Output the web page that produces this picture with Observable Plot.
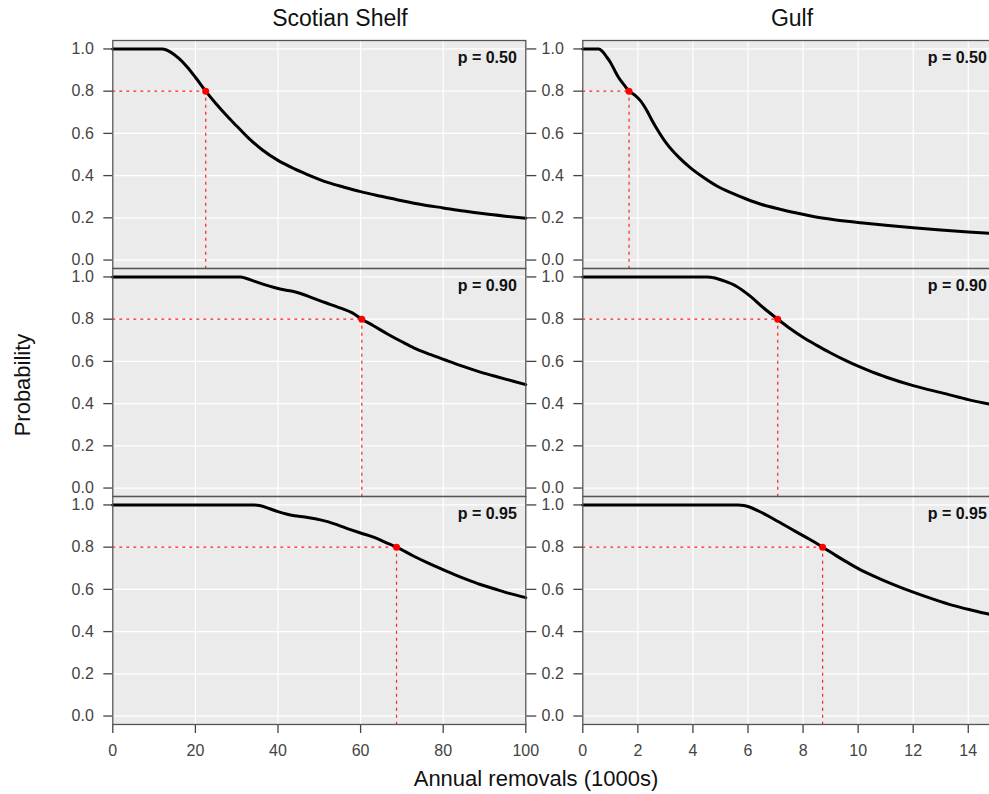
<!DOCTYPE html>
<html>
<head>
<meta charset="utf-8">
<script src="https://cdn.jsdelivr.net/npm/d3@7"></script>
<script src="https://cdn.jsdelivr.net/npm/@observablehq/plot@0.6"></script>
<style>
  html, body { margin: 0; padding: 0; background: #fff; overflow: hidden; }
  #wrap { position: relative; width: 989px; height: 794px; overflow: hidden; background: #fff; }
  #wrap > svg { position: absolute; top: 0; }
  #labels { position: absolute; left: 0; top: 0; pointer-events: none; }
  #wrap g[aria-label$="tick label"] { font-size: 16px !important; }
</style>
</head>
<body>
<div id="wrap">
  <div id="colA"></div>
  <div id="colB"></div>
</div>
<script>
// Regions (columns) and precautionary probability levels (rows)
const regions = ["Scotian Shelf", "Gulf"];
const pLevels = ["0.50", "0.90", "0.95"];
const yTicks = [0, 0.2, 0.4, 0.6, 0.8, 1.0];
const ssTicks = [0, 20, 40, 60, 80, 100];
const gulfTicks = [0, 2, 4, 6, 8, 10, 12, 14];

// Probability of meeting the objective vs annual removals (1000s)
const scotian050 = [[0,1],[12,1],[13,0.995],[14,0.985],[16,0.955],[18,0.915],[20,0.866],[22.5,0.8],[25,0.74],[28,0.675],[30,0.635],[33,0.575],[36,0.525],[40,0.472],[44,0.432],[48,0.398],[52,0.368],[56,0.345],[60,0.324],[65,0.302],[70,0.281],[75,0.262],[80,0.247],[85,0.232],[90,0.219],[95,0.208],[100,0.198]];
const scotian090 = [[0,1],[31,1],[32,0.995],[34.2,0.98],[36.5,0.965],[39.1,0.95],[42,0.937],[44,0.93],[46,0.918],[48,0.903],[51.2,0.88],[55.2,0.852],[58,0.83],[60.3,0.8],[63,0.77],[66.5,0.73],[70,0.693],[73,0.663],[77,0.632],[81,0.603],[85,0.575],[89,0.549],[93,0.527],[97,0.506],[100,0.49]];
const scotian095 = [[0,1],[33.8,1],[35.8,0.996],[38,0.982],[40,0.968],[42,0.957],[44,0.949],[46.5,0.943],[49,0.935],[52,0.921],[56.8,0.888],[60,0.867],[63.3,0.846],[66,0.823],[68.7,0.8],[72.9,0.757],[76,0.728],[79.4,0.698],[82.6,0.671],[85.8,0.646],[89,0.623],[92.3,0.603],[96,0.581],[100,0.561]];
const gulf050 = [[0,1],[0.58,1],[0.7,0.99],[0.85,0.965],[1.0,0.937],[1.15,0.9],[1.3,0.865],[1.5,0.83],[1.68,0.8],[1.9,0.78],[2.09,0.755],[2.33,0.707],[2.5,0.665],[2.7,0.62],[3.06,0.549],[3.5,0.485],[3.9,0.438],[4.4,0.39],[4.87,0.351],[5.4,0.318],[5.96,0.288],[6.5,0.263],[7.16,0.241],[7.8,0.222],[8.37,0.206],[9.2,0.19],[10.18,0.176],[11,0.165],[12,0.153],[13,0.142],[14,0.133],[15,0.125]];
const gulf090 = [[0,1],[4.5,1],[4.8,0.995],[5.11,0.982],[5.59,0.955],[6.08,0.909],[6.56,0.854],[7.08,0.8],[7.5,0.758],[8.01,0.713],[8.5,0.676],[8.97,0.642],[9.5,0.607],[10,0.577],[10.5,0.55],[11.03,0.525],[12,0.485],[13.2,0.446],[14,0.419],[15,0.392]];
const gulf095 = [[0,1],[5.65,1],[5.85,0.997],[6.08,0.989],[6.4,0.97],[6.8,0.943],[7.3,0.906],[7.77,0.871],[8.25,0.836],[8.71,0.8],[9.2,0.76],[9.7,0.721],[10.2,0.685],[10.79,0.65],[11.4,0.617],[12,0.587],[12.7,0.555],[13.44,0.524],[14.1,0.502],[14.73,0.483],[15,0.476]];

// Removals giving an 80% probability at each level
const targetProb = 0.8;
const scotianTarget = [22.5, 60.3, 68.7];
const gulfTarget = [1.68, 7.08, 8.71];

const font = "'Liberation Sans', Arial, Helvetica, sans-serif";

function column(series, targets, xMax, xTicks) {
  const curves = pLevels.flatMap((p, i) => series[i].map(([x, y]) => ({p, x, y})));
  const refs = pLevels.map((p, i) => ({p, x: targets[i], y: targetProb, label: `p = ${p}`}));
  return Plot.plot({
    width: 545.3,
    height: 794,
    marginLeft: 112.3,
    marginRight: 20,
    marginTop: 40,
    marginBottom: 69.5,
    style: {background: "transparent", fontFamily: font, fontSize: "16px", color: "#444", overflow: "visible"},
    x: {domain: [0, xMax]},
    y: {domain: [-0.04, 1.04]},
    fy: {domain: pLevels, padding: 0, axis: null, label: null},
    marks: [
      Plot.frame({fill: "#ebebeb", stroke: "none"}),
      Plot.gridX(xTicks, {stroke: "#fff", strokeOpacity: 1, strokeWidth: 1.2}),
      Plot.gridY(yTicks, {stroke: "#fff", strokeOpacity: 1, strokeWidth: 1.2}),
      Plot.axisY(yTicks, {anchor: "left", tickSize: 9, tickPadding: 10, tickFormat: d3.format(".1f"), label: null, strokeWidth: 1.3, fontSize: 16}),
      Plot.axisY(yTicks, {anchor: "right", tickSize: 10, tickFormat: () => "", label: null, strokeWidth: 1.3}),
      Plot.axisX(xTicks, {anchor: "bottom", tickSize: 9, tickPadding: 11, label: null, strokeWidth: 1.3, fontSize: 16}),
      Plot.ruleY(refs, {fy: "p", y: "y", x1: () => 0, x2: "x", stroke: "#ff2020", strokeWidth: 1.2, strokeDasharray: "3,4"}),
      Plot.ruleX(refs, {fy: "p", x: "x", y1: "y", y2: () => -0.04, stroke: "#ff2020", strokeWidth: 1.2, strokeDasharray: "3,4"}),
      Plot.line(curves, {fy: "p", x: "x", y: "y", stroke: "#000", strokeWidth: 3, curve: "monotone-x", strokeLinejoin: "round"}),
      Plot.dot(refs, {fy: "p", x: "x", y: "y", r: 3.5, fill: "#ff0000", stroke: "none"}),
      Plot.text(refs, {fy: "p", text: "label", frameAnchor: "top-right", dx: -9, dy: 11, lineAnchor: "top", fontWeight: "bold", fontSize: 16, fill: "#111"}),
      Plot.frame({stroke: "#555", strokeWidth: 1.3})
    ]
  });
}

const left = column([scotian050, scotian090, scotian095], scotianTarget, 100, ssTicks);
left.style.left = "0px";
const right = column([gulf050, gulf090, gulf095], gulfTarget, 15, gulfTicks);
right.style.left = "470px";
const wrap = document.getElementById("wrap");
document.getElementById("colA").replaceWith(left);
document.getElementById("colB").replaceWith(right);

// Strip titles and shared axis titles
const ns = "http://www.w3.org/2000/svg";
const overlay = document.createElementNS(ns, "svg");
overlay.setAttribute("id", "labels");
overlay.setAttribute("width", 989);
overlay.setAttribute("height", 794);
overlay.style.fontFamily = font;
function addText(txt, x, y, size, rotate) {
  const t = document.createElementNS(ns, "text");
  t.textContent = txt;
  t.setAttribute("x", x);
  t.setAttribute("y", y);
  t.setAttribute("font-size", size);
  t.setAttribute("text-anchor", "middle");
  t.setAttribute("fill", "#111");
  if (rotate) t.setAttribute("transform", `rotate(${rotate},${x},${y})`);
  overlay.appendChild(t);
}
addText(regions[0], 340, 26, 23);
addText(regions[1], 792, 26, 23);
addText("Annual removals (1000s)", 536, 786, 22);
addText("Probability", 30, 385, 22, -90);
wrap.appendChild(overlay);
</script>
</body>
</html>
